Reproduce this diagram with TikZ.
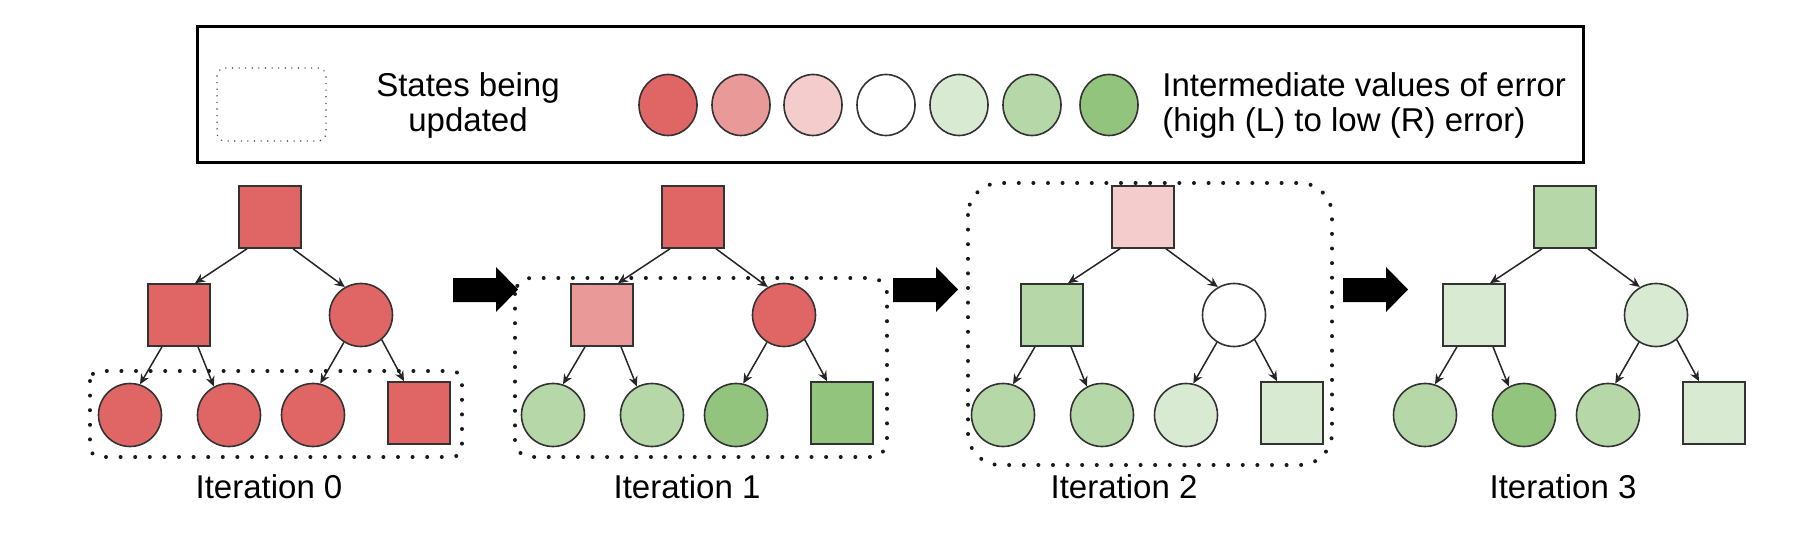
\documentclass[tikz,border=0pt]{standalone}
\usepackage{fontspec}
\setmainfont{Liberation Sans}
\usepackage{tikz}
\usetikzlibrary{arrows.meta,calc,shapes.geometric}

\definecolor{r1}{HTML}{E06666}
\definecolor{r2}{HTML}{EA9999}
\definecolor{r3}{HTML}{F4CCCC}
\definecolor{g3}{HTML}{D9EAD3}
\definecolor{g2}{HTML}{B6D7A8}
\definecolor{g1}{HTML}{93C47D}

\begin{document}
\begin{tikzpicture}[
x=0.5pt,y=-0.5pt,
>={Stealth[length=5pt,width=4.5pt]},
every node/.style={font=\fontsize{16.5}{17.5}\selectfont},
sqstate/.style={rectangle,draw=black!80,line width=0.8pt,minimum size=31pt,inner sep=0pt},
rdstate/.style={circle,draw=black!80,line width=0.8pt,minimum size=31.5pt,inner sep=0pt},
keydot/.style={ellipse,draw=black!80,line width=0.8pt,minimum width=29pt,minimum height=30.5pt,inner sep=0pt},
link/.style={->,line width=0.75pt,draw=black!85},
updbox/.style={draw=black!90,line width=2pt,line cap=round,dash pattern=on 0pt off 7.3pt},
keybox/.style={draw=black!70,line width=0.8pt,line cap=round,dash pattern=on 0pt off 3.3pt,rounded corners=4pt}
]
\useasboundingbox (0,0) rectangle (1814,534);

% Legend
\draw[line width=1.5pt] (197,27) rectangle (1583,163);
\draw[keybox] (217,68) rectangle (326,141);
\node[anchor=north,align=center,inner sep=0pt] (keytxt) at (468,72) {States being\\updated};
\foreach \c/\kx [count=\i] in {r1/668,r2/741,r3/813,white/886,g3/959,g2/1032,g1/1109}
  \node[keydot,fill=\c] (key\i) at (\kx,105) {};
\node[anchor=north west,align=left,inner sep=0pt] (scaletxt) at (1162,72)
  {Intermediate values of error\\(high (L) to low (R) error)};

% Trees
\foreach \t/\rx/\lx/\ca/\cb/\cc/\cd/\ce/\cf/\cg in {
  0/270/269/r1/r1/r1/r1/r1/r1/r1,
  1/693/687/r1/r2/r1/g2/g2/g1/g1,
  2/1143/1124/r3/g2/white/g2/g2/g3/g3,
  3/1565/1563/g2/g3/g3/g2/g1/g2/g3}{
  \node[sqstate,fill=\ca] (root\t) at (\rx,217) {};
  \node[sqstate,fill=\cb] (l\t) at (\rx-91,315) {};
  \node[rdstate,fill=\cc] (r\t) at (\rx+91,315) {};
  \node[rdstate,fill=\cd] (ll\t) at (\rx-140,415) {};
  \node[rdstate,fill=\ce] (lr\t) at (\rx-41,415) {};
  \node[rdstate,fill=\cf] (rl\t) at (\rx+43,415) {};
  \node[sqstate,fill=\cg] (rr\t) at (\rx+149,413) {};
  \draw[link] ($(root\t.south)+(-23,0)$) -- ($(l\t.north)+(16,0)$);
  \draw[link] ($(root\t.south)+(23,0)$) -- (r\t.120);
  \draw[link] ($(l\t.south)+(-17,0)$) -- (ll\t.72);
  \draw[link] ($(l\t.south)+(19,0)$) -- (lr\t.118);
  \draw[link] (r\t.238) -- (rl\t.77);
  \draw[link] (r\t.310) -- ($(rr\t.north)+(-15,0)$);
  \node[anchor=base] (it\t) at (\lx,498) {Iteration \t};
}

% Updated states
\draw[updbox,rounded corners=5pt] (90,371) rectangle (462,457);
\draw[updbox,rounded corners=8pt] (515,278) rectangle (887,457);
\draw[updbox,rounded corners=16pt] (968,183) rectangle (1332,465);

% Step arrows
\foreach \ax in {453,893,1343}
  \fill (\ax,278) -- (\ax+43,278) -- (\ax+43,267) -- (\ax+65,289.5)
    -- (\ax+43,312) -- (\ax+43,302) -- (\ax,302) -- cycle;

\end{tikzpicture}
\end{document}
